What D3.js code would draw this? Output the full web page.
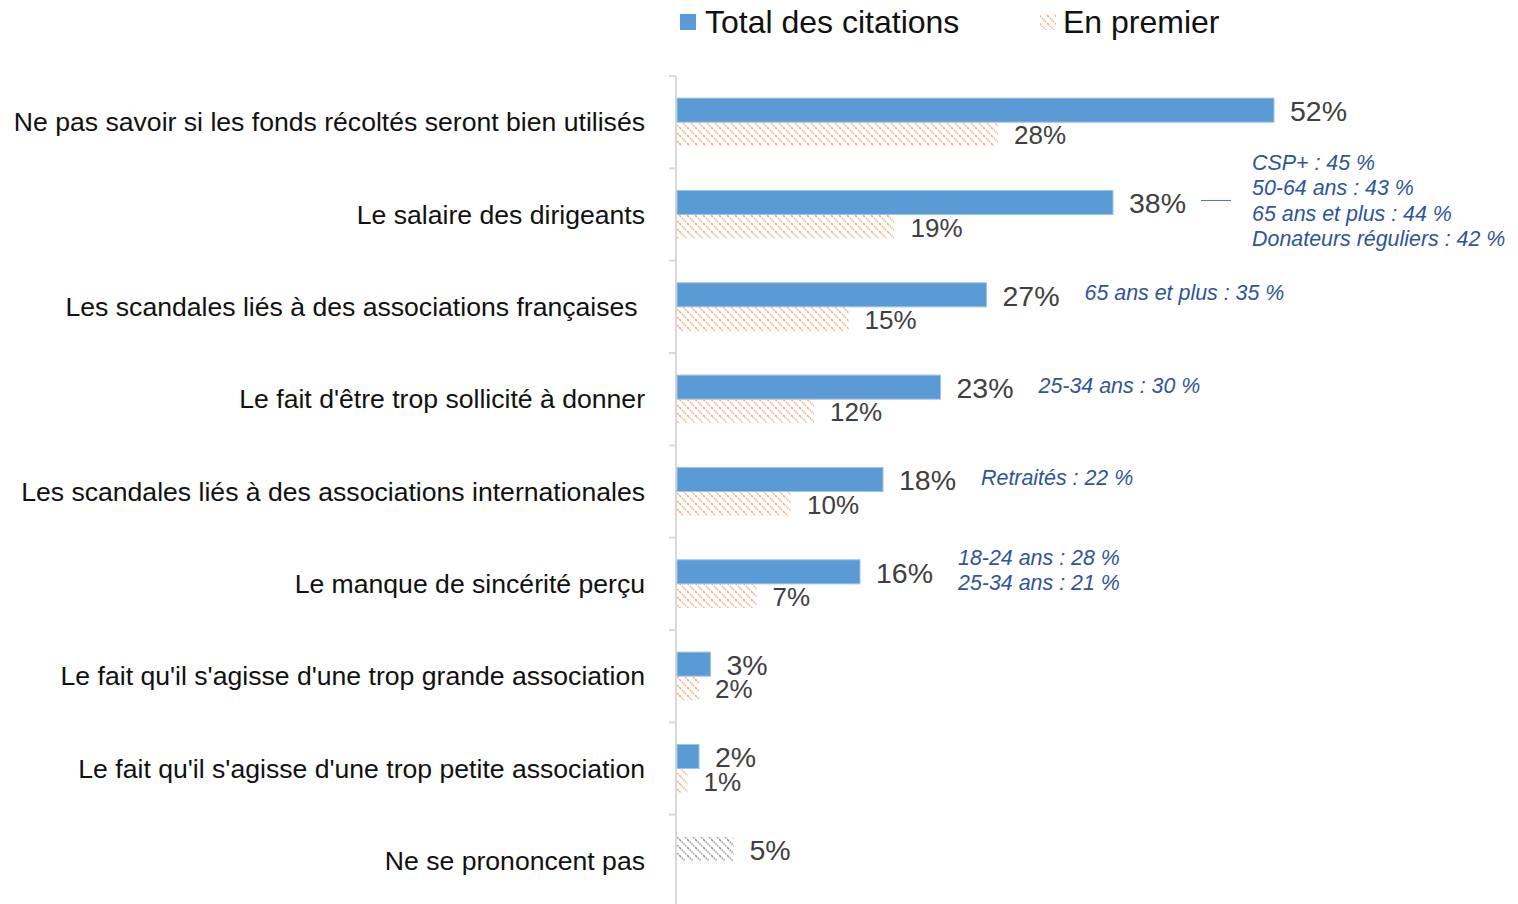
<!DOCTYPE html>
<html>
<head>
<meta charset="utf-8">
<script src="https://cdn.jsdelivr.net/npm/d3@7"></script>
<style>
  body { margin: 0; background: #fff; }
  text { font-family: "Liberation Sans", Arial, sans-serif; }
</style>
</head>
<body>
<div id="chart"></div>
<script>
var categories = [
  "Ne pas savoir si les fonds récoltés seront bien utilisés",
  "Le salaire des dirigeants",
  "Les scandales liés à des associations françaises\u00a0",
  "Le fait d'être trop sollicité à donner",
  "Les scandales liés à des associations internationales",
  "Le manque de sincérité perçu",
  "Le fait qu'il s'agisse d'une trop grande association",
  "Le fait qu'il s'agisse d'une trop petite association",
  "Ne se prononcent pas"
];
var totalValues = [52, 38, 27, 23, 18, 16, 3, 2, 5];
var premierValues = [28, 19, 15, 12, 10, 7, 2, 1, null];
var seriesNames = ["Total des citations", "En premier"];
var annotations = [
  [],
  ["CSP+ : 45 %", "50-64 ans : 43 %", "65 ans et plus : 44 %", "Donateurs réguliers : 42 %"],
  ["65 ans et plus : 35 %"],
  ["25-34 ans : 30 %"],
  ["Retraités : 22 %"],
  ["18-24 ans : 28 %", "25-34 ans : 21 %"],
  [],
  [],
  []
];

var W = 1518, H = 904;
var left = 676;

var svg = d3.select("#chart").append("svg")
  .attr("width", W)
  .attr("height", H);

// hatch patterns
var defs = svg.append("defs");
function hatch(id, color) {
  var p = defs.append("pattern")
    .attr("id", id)
    .attr("patternUnits", "userSpaceOnUse")
    .attr("width", 8).attr("height", 8);
  p.append("path")
    .attr("d", "M0,0 L8,8 M-4,4 L4,12 M4,-4 L12,4")
    .attr("stroke", color)
    .attr("stroke-width", 1.6)
    .attr("stroke-dasharray", "1.5,1");
}
hatch("hatch-orange", "#F4B183");
hatch("hatch-gray", "#9a9a9a");

var x = d3.scaleLinear()
  .domain([0, 52])
  .range([left, 1274]);

var y = d3.scaleBand()
  .domain(categories)
  .range([76, 907])
  .padding(0);

var ySub = d3.scaleBand()
  .domain(seriesNames)
  .range([0, y.bandwidth()])
  .paddingInner(0)
  .paddingOuter(0.92);

// axis line + ticks between categories
var axis = svg.append("g").attr("class", "y axis");
axis.append("line")
  .attr("x1", left).attr("x2", left)
  .attr("y1", y.range()[0]).attr("y2", y.range()[1])
  .attr("stroke", "#d9d9d9").attr("stroke-width", 2);
var bounds = categories.map(function(c) { return y(c); }).concat([y.range()[1]]);
axis.selectAll(".tick")
  .data(bounds)
  .enter().append("line")
  .attr("x1", left - 7).attr("x2", left)
  .attr("y1", function(d) { return d; })
  .attr("y2", function(d) { return d; })
  .attr("stroke", "#d9d9d9").attr("stroke-width", 2);

// category labels
svg.selectAll(".cat")
  .data(categories)
  .enter().append("text")
  .attr("class", "cat")
  .attr("x", 645)
  .attr("y", function(d) { return y(d) + y.bandwidth() / 2; })
  .attr("dy", "0.35em")
  .attr("text-anchor", "end")
  .attr("font-size", 26.6)
  .attr("fill", "#111")
  .style("white-space", "pre")
  .text(function(d) { return d; });

var rows = categories.map(function(c, i) {
  return { cat: c, total: totalValues[i], premier: premierValues[i], notes: annotations[i], last: premierValues[i] === null };
});

// total bars
svg.selectAll(".bar-total")
  .data(rows)
  .enter().append("rect")
  .attr("class", "bar-total")
  .attr("x", left + 1)
  .attr("y", function(d) { return y(d.cat) + ySub(seriesNames[0]); })
  .attr("width", function(d) { return x(d.total) - left - 1; })
  .attr("height", ySub.bandwidth())
  .attr("fill", function(d) { return d.last ? "url(#hatch-gray)" : "#5B9BD5"; })
  .attr("stroke", function(d) { return d.last ? "none" : "#9DC3E6"; })
  .attr("stroke-width", 1);

// premier bars
svg.selectAll(".bar-premier")
  .data(rows.filter(function(d) { return d.premier !== null; }))
  .enter().append("rect")
  .attr("class", "bar-premier")
  .attr("x", left + 1)
  .attr("y", function(d) { return y(d.cat) + ySub(seriesNames[1]); })
  .attr("width", function(d) { return x(d.premier) - left - 1; })
  .attr("height", ySub.bandwidth())
  .attr("fill", "url(#hatch-orange)");

// value labels
var totalLabels = svg.selectAll(".lab-total")
  .data(rows)
  .enter().append("text")
  .attr("class", "lab-total")
  .attr("x", function(d) { return x(d.total) + 16; })
  .attr("y", function(d) { return y(d.cat) + ySub(seriesNames[0]) + ySub.bandwidth() / 2 + 1; })
  .attr("dy", "0.35em")
  .attr("font-size", 28.5)
  .attr("fill", "#404040")
  .text(function(d) { return d.total + "%"; });

svg.selectAll(".lab-premier")
  .data(rows.filter(function(d) { return d.premier !== null; }))
  .enter().append("text")
  .attr("class", "lab-premier")
  .attr("x", function(d) { return x(d.premier) + 16; })
  .attr("y", function(d) { return y(d.cat) + ySub(seriesNames[1]) + ySub.bandwidth() / 2 + 1; })
  .attr("dy", "0.35em")
  .attr("font-size", 26)
  .attr("fill", "#404040")
  .text(function(d) { return d.premier + "%"; });

// annotations next to the total labels
totalLabels.each(function(d) {
  if (!d.notes.length) return;
  var endX = this.getBBox().x + this.getBBox().width;
  var cy = y(d.cat) + ySub(seriesNames[0]) + ySub.bandwidth() / 2 - 2;
  var tx = endX + 25;
  if (d.notes.length > 2) {
    svg.append("line")
      .attr("x1", endX + 15).attr("x2", endX + 45)
      .attr("y1", cy).attr("y2", cy)
      .attr("stroke", "#4472C4").attr("stroke-width", 1);
    tx = endX + 66;
  }
  var lh = 25.3;
  var top = cy - (d.notes.length - 1) * lh / 2;
  svg.selectAll(null)
    .data(d.notes)
    .enter().append("text")
    .attr("class", "note")
    .attr("x", tx)
    .attr("y", function(n, i) { return top + i * lh; })
    .attr("dy", "0.35em")
    .attr("font-size", 21.4)
    .attr("font-style", "italic")
    .attr("fill", "#2F5597")
    .text(function(n) { return n; });
});

// legend
var legend = svg.append("g").attr("class", "legend");
legend.append("rect")
  .attr("x", 680).attr("y", 14).attr("width", 16).attr("height", 16)
  .attr("fill", "#5B9BD5");
legend.append("text")
  .attr("x", 705).attr("y", 22).attr("dy", "0.35em")
  .attr("font-size", 32).attr("fill", "#111")
  .text(seriesNames[0]);
legend.append("rect")
  .attr("x", 1040).attr("y", 14).attr("width", 16).attr("height", 16)
  .attr("fill", "url(#hatch-orange)");
legend.append("text")
  .attr("x", 1063).attr("y", 22).attr("dy", "0.35em")
  .attr("font-size", 32).attr("fill", "#111")
  .text(seriesNames[1]);
</script>
</body>
</html>
